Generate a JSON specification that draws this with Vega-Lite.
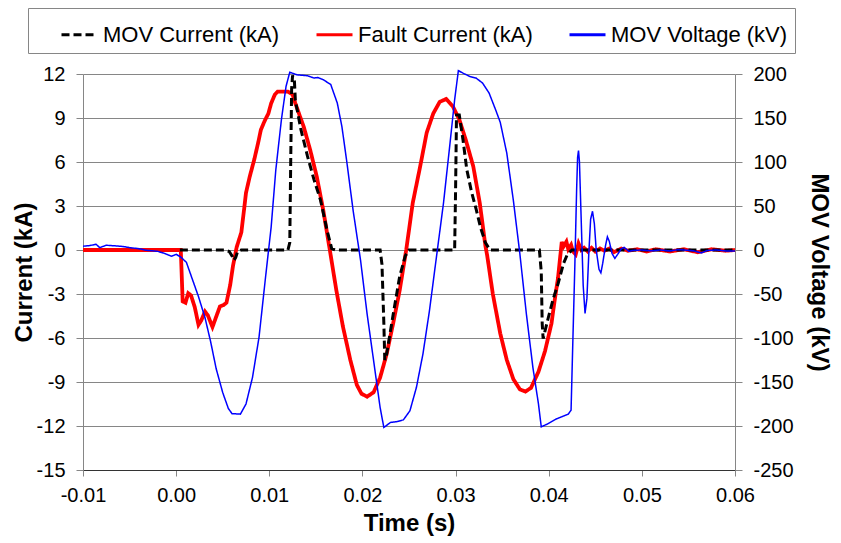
{
  "$schema": "https://vega.github.io/schema/vega-lite/v6.json",
  "autosize": "none",
  "width": 652,
  "height": 396,
  "padding": {"left": 83, "top": 74, "right": 106, "bottom": 73},
  "config": {
    "view": {"stroke": null},
    "font": "Liberation Sans",
    "axis": {
      "labelFont": "Liberation Sans",
      "labelFontSize": 20,
      "labelColor": "#000000",
      "titleFont": "Liberation Sans",
      "titleFontSize": 24,
      "titleFontWeight": "bold",
      "titleColor": "#000000",
      "domainColor": "#868686",
      "tickColor": "#868686",
      "gridColor": "#868686",
      "tickSize": 7,
      "labelPadding": 11
    }
  },
  "datasets": {
    "fault": [
      {"s":"Fault Current (kA)","t":-0.01,"v":0},{"s":"Fault Current (kA)","t":0.0003,"v":0},{"s":"Fault Current (kA)","t":0.0005,"v":0},{"s":"Fault Current (kA)","t":0.0007,"v":-3.5},{"s":"Fault Current (kA)","t":0.001,"v":-3.6},{"s":"Fault Current (kA)","t":0.0013,"v":-2.95},{"s":"Fault Current (kA)","t":0.0016,"v":-3.1},{"s":"Fault Current (kA)","t":0.002,"v":-3.9},{"s":"Fault Current (kA)","t":0.0024,"v":-5.1},{"s":"Fault Current (kA)","t":0.0027,"v":-4.8},{"s":"Fault Current (kA)","t":0.0031,"v":-4.2},{"s":"Fault Current (kA)","t":0.0034,"v":-4.45},{"s":"Fault Current (kA)","t":0.0039,"v":-5.25},{"s":"Fault Current (kA)","t":0.0043,"v":-4.55},{"s":"Fault Current (kA)","t":0.0047,"v":-3.85},{"s":"Fault Current (kA)","t":0.0051,"v":-3.75},{"s":"Fault Current (kA)","t":0.0054,"v":-3.6},{"s":"Fault Current (kA)","t":0.0058,"v":-2.4},{"s":"Fault Current (kA)","t":0.0061,"v":-1.1},{"s":"Fault Current (kA)","t":0.0065,"v":0.2},{"s":"Fault Current (kA)","t":0.007,"v":1.2},{"s":"Fault Current (kA)","t":0.0073,"v":2.8},{"s":"Fault Current (kA)","t":0.0075,"v":3.9},{"s":"Fault Current (kA)","t":0.0079,"v":5.0},{"s":"Fault Current (kA)","t":0.0084,"v":6.2},{"s":"Fault Current (kA)","t":0.0088,"v":7.3},{"s":"Fault Current (kA)","t":0.0091,"v":8.2},{"s":"Fault Current (kA)","t":0.0095,"v":8.8},{"s":"Fault Current (kA)","t":0.0099,"v":9.3},{"s":"Fault Current (kA)","t":0.0102,"v":10.0},{"s":"Fault Current (kA)","t":0.0106,"v":10.6},{"s":"Fault Current (kA)","t":0.0109,"v":10.8},{"s":"Fault Current (kA)","t":0.012,"v":10.8},{"s":"Fault Current (kA)","t":0.0125,"v":10.6},{"s":"Fault Current (kA)","t":0.0128,"v":10.0},{"s":"Fault Current (kA)","t":0.0133,"v":9.1},{"s":"Fault Current (kA)","t":0.0137,"v":8.4},{"s":"Fault Current (kA)","t":0.0144,"v":6.8},{"s":"Fault Current (kA)","t":0.0151,"v":5.0},{"s":"Fault Current (kA)","t":0.0158,"v":2.7},{"s":"Fault Current (kA)","t":0.0165,"v":0},{"s":"Fault Current (kA)","t":0.0172,"v":-2.75},{"s":"Fault Current (kA)","t":0.0179,"v":-5.2},{"s":"Fault Current (kA)","t":0.0187,"v":-7.5},{"s":"Fault Current (kA)","t":0.0194,"v":-9.2},{"s":"Fault Current (kA)","t":0.0199,"v":-9.8},{"s":"Fault Current (kA)","t":0.0205,"v":-10.0},{"s":"Fault Current (kA)","t":0.0212,"v":-9.7},{"s":"Fault Current (kA)","t":0.0219,"v":-8.7},{"s":"Fault Current (kA)","t":0.0226,"v":-7.1},{"s":"Fault Current (kA)","t":0.0233,"v":-5.0},{"s":"Fault Current (kA)","t":0.024,"v":-2.75},{"s":"Fault Current (kA)","t":0.0247,"v":0},{"s":"Fault Current (kA)","t":0.0254,"v":3.2},{"s":"Fault Current (kA)","t":0.0262,"v":5.7},{"s":"Fault Current (kA)","t":0.0269,"v":8.0},{"s":"Fault Current (kA)","t":0.0276,"v":9.3},{"s":"Fault Current (kA)","t":0.0283,"v":10.1},{"s":"Fault Current (kA)","t":0.029,"v":10.3},{"s":"Fault Current (kA)","t":0.0297,"v":9.8},{"s":"Fault Current (kA)","t":0.0304,"v":8.9},{"s":"Fault Current (kA)","t":0.0311,"v":7.5},{"s":"Fault Current (kA)","t":0.0319,"v":5.7},{"s":"Fault Current (kA)","t":0.0326,"v":3.2},{"s":"Fault Current (kA)","t":0.0332,"v":0.3},{"s":"Fault Current (kA)","t":0.0334,"v":-0.4},{"s":"Fault Current (kA)","t":0.034,"v":-3.0},{"s":"Fault Current (kA)","t":0.0348,"v":-5.7},{"s":"Fault Current (kA)","t":0.0355,"v":-7.5},{"s":"Fault Current (kA)","t":0.0362,"v":-8.8},{"s":"Fault Current (kA)","t":0.0369,"v":-9.5},{"s":"Fault Current (kA)","t":0.0375,"v":-9.65},{"s":"Fault Current (kA)","t":0.0381,"v":-9.4},{"s":"Fault Current (kA)","t":0.0389,"v":-8.3},{"s":"Fault Current (kA)","t":0.0396,"v":-6.9},{"s":"Fault Current (kA)","t":0.0403,"v":-5.0},{"s":"Fault Current (kA)","t":0.0406,"v":-3.6},{"s":"Fault Current (kA)","t":0.041,"v":-1.9},{"s":"Fault Current (kA)","t":0.0414,"v":0.55},{"s":"Fault Current (kA)","t":0.0416,"v":0.25},{"s":"Fault Current (kA)","t":0.0419,"v":0.57},{"s":"Fault Current (kA)","t":0.0421,"v":0.05},{"s":"Fault Current (kA)","t":0.0424,"v":0.35},{"s":"Fault Current (kA)","t":0.0426,"v":-0.1},{"s":"Fault Current (kA)","t":0.0429,"v":-0.3},{"s":"Fault Current (kA)","t":0.0432,"v":0.45},{"s":"Fault Current (kA)","t":0.0435,"v":0.0},{"s":"Fault Current (kA)","t":0.0438,"v":0.15},{"s":"Fault Current (kA)","t":0.0442,"v":-0.1},{"s":"Fault Current (kA)","t":0.0446,"v":0.15},{"s":"Fault Current (kA)","t":0.045,"v":-0.1},{"s":"Fault Current (kA)","t":0.0455,"v":0.1},{"s":"Fault Current (kA)","t":0.046,"v":-0.05},{"s":"Fault Current (kA)","t":0.0465,"v":0.1},{"s":"Fault Current (kA)","t":0.047,"v":-0.15},{"s":"Fault Current (kA)","t":0.0478,"v":0.1},{"s":"Fault Current (kA)","t":0.0485,"v":-0.05},{"s":"Fault Current (kA)","t":0.0495,"v":0.05},{"s":"Fault Current (kA)","t":0.0505,"v":-0.1},{"s":"Fault Current (kA)","t":0.0515,"v":0.05},{"s":"Fault Current (kA)","t":0.053,"v":-0.1},{"s":"Fault Current (kA)","t":0.0545,"v":0.05},{"s":"Fault Current (kA)","t":0.056,"v":-0.15},{"s":"Fault Current (kA)","t":0.0575,"v":0.05},{"s":"Fault Current (kA)","t":0.059,"v":-0.05},{"s":"Fault Current (kA)","t":0.06,"v":0}
    ],
    "mov": [
      {"s":"MOV Current (kA)","t":0.0004,"v":0},{"s":"MOV Current (kA)","t":0.0052,"v":0},{"s":"MOV Current (kA)","t":0.0057,"v":-0.1},{"s":"MOV Current (kA)","t":0.006,"v":-0.4},{"s":"MOV Current (kA)","t":0.0062,"v":-0.7},{"s":"MOV Current (kA)","t":0.0064,"v":-0.5},{"s":"MOV Current (kA)","t":0.0066,"v":-0.1},{"s":"MOV Current (kA)","t":0.007,"v":0},{"s":"MOV Current (kA)","t":0.012,"v":0},{"s":"MOV Current (kA)","t":0.0122,"v":0.5},{"s":"MOV Current (kA)","t":0.0123,"v":6},{"s":"MOV Current (kA)","t":0.0124,"v":11.0},{"s":"MOV Current (kA)","t":0.0125,"v":11.9},{"s":"MOV Current (kA)","t":0.0127,"v":11.5},{"s":"MOV Current (kA)","t":0.0128,"v":10.2},{"s":"MOV Current (kA)","t":0.0134,"v":8.2},{"s":"MOV Current (kA)","t":0.0141,"v":6.4},{"s":"MOV Current (kA)","t":0.0148,"v":4.8},{"s":"MOV Current (kA)","t":0.0155,"v":3.4},{"s":"MOV Current (kA)","t":0.0162,"v":1.35},{"s":"MOV Current (kA)","t":0.0167,"v":0.1},{"s":"MOV Current (kA)","t":0.0171,"v":0},{"s":"MOV Current (kA)","t":0.0219,"v":0},{"s":"MOV Current (kA)","t":0.0221,"v":-1},{"s":"MOV Current (kA)","t":0.0223,"v":-5},{"s":"MOV Current (kA)","t":0.0224,"v":-7.5},{"s":"MOV Current (kA)","t":0.0226,"v":-7.1},{"s":"MOV Current (kA)","t":0.0233,"v":-4.4},{"s":"MOV Current (kA)","t":0.024,"v":-1.8},{"s":"MOV Current (kA)","t":0.0246,"v":-0.4},{"s":"MOV Current (kA)","t":0.025,"v":0},{"s":"MOV Current (kA)","t":0.0299,"v":0},{"s":"MOV Current (kA)","t":0.03,"v":4},{"s":"MOV Current (kA)","t":0.0301,"v":9.2},{"s":"MOV Current (kA)","t":0.0304,"v":9.2},{"s":"MOV Current (kA)","t":0.0308,"v":7.5},{"s":"MOV Current (kA)","t":0.0312,"v":5.5},{"s":"MOV Current (kA)","t":0.0317,"v":4.0},{"s":"MOV Current (kA)","t":0.0322,"v":2.8},{"s":"MOV Current (kA)","t":0.0327,"v":1.5},{"s":"MOV Current (kA)","t":0.0332,"v":0.5},{"s":"MOV Current (kA)","t":0.0337,"v":0},{"s":"MOV Current (kA)","t":0.039,"v":0},{"s":"MOV Current (kA)","t":0.0392,"v":-1.5},{"s":"MOV Current (kA)","t":0.0393,"v":-5},{"s":"MOV Current (kA)","t":0.0394,"v":-6.05},{"s":"MOV Current (kA)","t":0.04,"v":-4.5},{"s":"MOV Current (kA)","t":0.0405,"v":-3.3},{"s":"MOV Current (kA)","t":0.041,"v":-2.3},{"s":"MOV Current (kA)","t":0.0416,"v":-0.9},{"s":"MOV Current (kA)","t":0.042,"v":-0.3},{"s":"MOV Current (kA)","t":0.0425,"v":0},{"s":"MOV Current (kA)","t":0.06,"v":0}
    ],
    "volt": [
      {"s":"MOV Voltage (kV)","t":-0.01,"v":4.3},{"s":"MOV Voltage (kV)","t":-0.0093,"v":5},{"s":"MOV Voltage (kV)","t":-0.0086,"v":6.5},{"s":"MOV Voltage (kV)","t":-0.0082,"v":2.7},{"s":"MOV Voltage (kV)","t":-0.0075,"v":5.4},{"s":"MOV Voltage (kV)","t":-0.0064,"v":4.6},{"s":"MOV Voltage (kV)","t":-0.0057,"v":4},{"s":"MOV Voltage (kV)","t":-0.005,"v":2.7},{"s":"MOV Voltage (kV)","t":-0.004,"v":1.5},{"s":"MOV Voltage (kV)","t":-0.0032,"v":-0.3},{"s":"MOV Voltage (kV)","t":-0.002,"v":-1.5},{"s":"MOV Voltage (kV)","t":-0.0014,"v":-3.3},{"s":"MOV Voltage (kV)","t":-0.0005,"v":-7.1},{"s":"MOV Voltage (kV)","t":0.0,"v":-4.9},{"s":"MOV Voltage (kV)","t":0.0005,"v":-8},{"s":"MOV Voltage (kV)","t":0.0011,"v":-14},{"s":"MOV Voltage (kV)","t":0.0017,"v":-32},{"s":"MOV Voltage (kV)","t":0.0024,"v":-53},{"s":"MOV Voltage (kV)","t":0.0031,"v":-77},{"s":"MOV Voltage (kV)","t":0.0037,"v":-104},{"s":"MOV Voltage (kV)","t":0.0043,"v":-135},{"s":"MOV Voltage (kV)","t":0.005,"v":-162},{"s":"MOV Voltage (kV)","t":0.0056,"v":-180},{"s":"MOV Voltage (kV)","t":0.006,"v":-186},{"s":"MOV Voltage (kV)","t":0.0069,"v":-186.5},{"s":"MOV Voltage (kV)","t":0.0075,"v":-175},{"s":"MOV Voltage (kV)","t":0.0082,"v":-144.7},{"s":"MOV Voltage (kV)","t":0.0089,"v":-99},{"s":"MOV Voltage (kV)","t":0.0096,"v":-30.7},{"s":"MOV Voltage (kV)","t":0.0102,"v":26},{"s":"MOV Voltage (kV)","t":0.0107,"v":91},{"s":"MOV Voltage (kV)","t":0.0113,"v":148},{"s":"MOV Voltage (kV)","t":0.0118,"v":186},{"s":"MOV Voltage (kV)","t":0.0122,"v":202},{"s":"MOV Voltage (kV)","t":0.013,"v":199},{"s":"MOV Voltage (kV)","t":0.0141,"v":198},{"s":"MOV Voltage (kV)","t":0.0148,"v":195.4},{"s":"MOV Voltage (kV)","t":0.0152,"v":196},{"s":"MOV Voltage (kV)","t":0.0158,"v":193.5},{"s":"MOV Voltage (kV)","t":0.0166,"v":188},{"s":"MOV Voltage (kV)","t":0.0173,"v":167},{"s":"MOV Voltage (kV)","t":0.0178,"v":140},{"s":"MOV Voltage (kV)","t":0.0183,"v":102},{"s":"MOV Voltage (kV)","t":0.019,"v":45},{"s":"MOV Voltage (kV)","t":0.0198,"v":-11.7},{"s":"MOV Voltage (kV)","t":0.0205,"v":-72.5},{"s":"MOV Voltage (kV)","t":0.0212,"v":-125.7},{"s":"MOV Voltage (kV)","t":0.0219,"v":-179},{"s":"MOV Voltage (kV)","t":0.0223,"v":-201.7},{"s":"MOV Voltage (kV)","t":0.023,"v":-196},{"s":"MOV Voltage (kV)","t":0.0237,"v":-195},{"s":"MOV Voltage (kV)","t":0.0244,"v":-193},{"s":"MOV Voltage (kV)","t":0.0251,"v":-182.7},{"s":"MOV Voltage (kV)","t":0.0258,"v":-156},{"s":"MOV Voltage (kV)","t":0.0265,"v":-118},{"s":"MOV Voltage (kV)","t":0.0272,"v":-68.7},{"s":"MOV Voltage (kV)","t":0.0279,"v":-11.7},{"s":"MOV Voltage (kV)","t":0.0287,"v":53},{"s":"MOV Voltage (kV)","t":0.0294,"v":121},{"s":"MOV Voltage (kV)","t":0.0299,"v":170.7},{"s":"MOV Voltage (kV)","t":0.0303,"v":203.8},{"s":"MOV Voltage (kV)","t":0.0308,"v":201},{"s":"MOV Voltage (kV)","t":0.0315,"v":197.3},{"s":"MOV Voltage (kV)","t":0.0322,"v":195.4},{"s":"MOV Voltage (kV)","t":0.0329,"v":189.7},{"s":"MOV Voltage (kV)","t":0.0336,"v":178.3},{"s":"MOV Voltage (kV)","t":0.0343,"v":159.3},{"s":"MOV Voltage (kV)","t":0.0348,"v":145},{"s":"MOV Voltage (kV)","t":0.0355,"v":110},{"s":"MOV Voltage (kV)","t":0.0362,"v":56.7},{"s":"MOV Voltage (kV)","t":0.0369,"v":-4},{"s":"MOV Voltage (kV)","t":0.0376,"v":-72.5},{"s":"MOV Voltage (kV)","t":0.0383,"v":-133.3},{"s":"MOV Voltage (kV)","t":0.0389,"v":-175},{"s":"MOV Voltage (kV)","t":0.0392,"v":-201},{"s":"MOV Voltage (kV)","t":0.0398,"v":-198},{"s":"MOV Voltage (kV)","t":0.0408,"v":-192},{"s":"MOV Voltage (kV)","t":0.0421,"v":-186.5},{"s":"MOV Voltage (kV)","t":0.0424,"v":-182},{"s":"MOV Voltage (kV)","t":0.0426,"v":-100},{"s":"MOV Voltage (kV)","t":0.0428,"v":-20},{"s":"MOV Voltage (kV)","t":0.043,"v":70},{"s":"MOV Voltage (kV)","t":0.0431,"v":105},{"s":"MOV Voltage (kV)","t":0.0432,"v":113},{"s":"MOV Voltage (kV)","t":0.0433,"v":100},{"s":"MOV Voltage (kV)","t":0.0435,"v":30},{"s":"MOV Voltage (kV)","t":0.0437,"v":-40},{"s":"MOV Voltage (kV)","t":0.0439,"v":-72},{"s":"MOV Voltage (kV)","t":0.0441,"v":-55},{"s":"MOV Voltage (kV)","t":0.0443,"v":-5},{"s":"MOV Voltage (kV)","t":0.0445,"v":35},{"s":"MOV Voltage (kV)","t":0.0447,"v":44},{"s":"MOV Voltage (kV)","t":0.0449,"v":30},{"s":"MOV Voltage (kV)","t":0.0451,"v":0},{"s":"MOV Voltage (kV)","t":0.0454,"v":-22},{"s":"MOV Voltage (kV)","t":0.0456,"v":-26},{"s":"MOV Voltage (kV)","t":0.0458,"v":-15},{"s":"MOV Voltage (kV)","t":0.0461,"v":5},{"s":"MOV Voltage (kV)","t":0.0463,"v":15},{"s":"MOV Voltage (kV)","t":0.0465,"v":10},{"s":"MOV Voltage (kV)","t":0.0468,"v":-4},{"s":"MOV Voltage (kV)","t":0.0471,"v":-9.5},{"s":"MOV Voltage (kV)","t":0.0474,"v":-5},{"s":"MOV Voltage (kV)","t":0.0478,"v":1.5},{"s":"MOV Voltage (kV)","t":0.0481,"v":3},{"s":"MOV Voltage (kV)","t":0.0486,"v":-1.5},{"s":"MOV Voltage (kV)","t":0.049,"v":-0.5},{"s":"MOV Voltage (kV)","t":0.05,"v":0},{"s":"MOV Voltage (kV)","t":0.051,"v":-1},{"s":"MOV Voltage (kV)","t":0.052,"v":0},{"s":"MOV Voltage (kV)","t":0.053,"v":-1},{"s":"MOV Voltage (kV)","t":0.054,"v":0.5},{"s":"MOV Voltage (kV)","t":0.0556,"v":-1},{"s":"MOV Voltage (kV)","t":0.0564,"v":-3.3},{"s":"MOV Voltage (kV)","t":0.057,"v":-0.5},{"s":"MOV Voltage (kV)","t":0.058,"v":0},{"s":"MOV Voltage (kV)","t":0.059,"v":-1},{"s":"MOV Voltage (kV)","t":0.06,"v":-1}
    ]
  },
  "encoding": {
    "x": {
      "field": "t", "type": "quantitative",
      "scale": {"domain": [-0.01, 0.06], "nice": false, "zero": false},
      "axis": {
        "values": [-0.01, 0, 0.01, 0.02, 0.03, 0.04, 0.05, 0.06],
        "grid": false, "tickSize": 6, "labelPadding": 9, "labelFlush": false,
        "domainColor": "#333333",
        "labelExpr": "datum.value < -0.0001 ? '-' + format(-datum.value, '.2f') : format(datum.value, '.2f')",
        "title": "Time (s)", "titlePadding": 6
      }
    },
    "color": {
      "field": "s", "type": "nominal",
      "scale": {"domain": ["MOV Current (kA)", "Fault Current (kA)", "MOV Voltage (kV)"], "range": ["#000000", "#ff0000", "#0000ff"]},
      "legend": {
        "title": "\u2002", "titleOrient": "left", "titlePadding": 25, "titleFontSize": 22, "titleFont": "Liberation Sans",
        "orient": "none", "direction": "horizontal",
        "legendX": -55, "legendY": -66,
        "strokeColor": "#868686", "padding": 7, "fillColor": "#ffffff",
        "labelFont": "Liberation Sans", "labelFontSize": 22, "labelColor": "#000000", "labelLimit": 400,
        "symbolType": "stroke", "symbolSize": 1296, "symbolStrokeWidth": 3,
        "labelOffset": 4, "columnPadding": 30
      }
    },
    "strokeDash": {
      "field": "s", "type": "nominal",
      "scale": {"domain": ["MOV Current (kA)", "Fault Current (kA)", "MOV Voltage (kV)"], "range": [[8, 4], [1, 0], [1, 0]]},
      "legend": null
    }
  },
  "layer": [
    {
      "layer": [
        {"data": {"name": "fault"}, "mark": {"type": "line", "interpolate": "linear", "strokeWidth": 3.8}, "encoding": {"y": {"field": "v", "type": "quantitative"}}},
        {"data": {"name": "mov"}, "mark": {"type": "line", "interpolate": "linear", "strokeWidth": 3}, "encoding": {"y": {"field": "v", "type": "quantitative"}}}
      ],
      "encoding": {
        "y": {
          "field": "v", "type": "quantitative",
          "scale": {"domain": [-15, 12], "nice": false, "zero": false},
          "axis": {
            "orient": "left",
            "values": [-15, -12, -9, -6, -3, 0, 3, 6, 9, 12],
            "grid": true,
            "labelExpr": "datum.value < 0 ? '-' + format(-datum.value, 'd') : format(datum.value, 'd')",
            "title": "Current (kA)", "titlePadding": 0
          }
        }
      }
    },
    {
      "data": {"name": "volt"},
      "mark": {"type": "line", "interpolate": "linear", "strokeWidth": 1.5},
      "encoding": {
        "y": {
          "field": "v", "type": "quantitative",
          "scale": {"domain": [-250, 200], "nice": false, "zero": false},
          "axis": {
            "orient": "right",
            "values": [-250, -200, -150, -100, -50, 0, 50, 100, 150, 200],
            "grid": false,
            "labelExpr": "datum.value < 0 ? '-' + format(-datum.value, 'd') : format(datum.value, 'd')",
            "title": "MOV Voltage (kV)", "titlePadding": 13
          }
        }
      }
    }
  ],
  "resolve": {"scale": {"y": "independent"}}
}
